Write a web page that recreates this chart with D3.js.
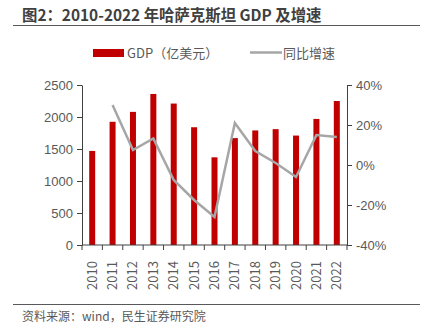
<!DOCTYPE html>
<html lang="zh">
  <head>
    <meta charset="utf-8" />
    <script src="https://d3js.org/d3.v7.min.js"></script>
    <style>
      body {
        margin: 0;
        background-color: #fff;
      }
      svg {
        font-family: "Noto Sans CJK SC", "Noto Sans", sans-serif;
      }
      .axis path,
      .axis line {
        stroke: #404040;
      }
      .axis text {
        fill: #595959;
        font-size: 13px;
      }
    </style>
  </head>
  <body>
    <div id="chart"></div>
    <script>
      const width = 427;
      const height = 336;

      const years = ["2010", "2011", "2012", "2013", "2014", "2015", "2016",
        "2017", "2018", "2019", "2020", "2021", "2022"];
      const gdp = [1470, 1925, 2080, 2360, 2210, 1840, 1370, 1670, 1790, 1810, 1710, 1970, 2250];
      const growth = [null, 30, 7.5, 13.3, -7.5, -17.5, -26, 21, 7, 1, -6, 15, 14];
      const leftTicks = [0, 500, 1000, 1500, 2000, 2500];
      const rightTicks = [-40, -20, 0, 20, 40];

      const margin = { left: 82, right: 80, top: 85, bottom: 91 };

      const svg = d3
        .select("#chart")
        .append("svg")
        .attr("width", width)
        .attr("height", height);

      // titre + filets
      svg.append("text")
        .attr("x", 22)
        .attr("y", 21)
        .attr("fill", "#404040")
        .attr("font-size", "15.4px")
        .attr("font-weight", "bold")
        .text("图2：2010-2022 年哈萨克斯坦 GDP 及增速");
      svg.append("line")
        .attr("x1", 13).attr("x2", 420)
        .attr("y1", 25.5).attr("y2", 25.5)
        .attr("stroke", "#595959").attr("stroke-width", 1.2);
      svg.append("line")
        .attr("x1", 13).attr("x2", 420)
        .attr("y1", 304.5).attr("y2", 304.5)
        .attr("stroke", "#595959").attr("stroke-width", 1.2);
      svg.append("text")
        .attr("x", 22)
        .attr("y", 321)
        .attr("fill", "#595959")
        .attr("font-size", "12px")
        .text("资料来源：wind，民生证券研究院");

      const x = d3
        .scaleBand()
        .domain(years)
        .range([margin.left, width - margin.right]);

      const y = d3
        .scaleLinear()
        .domain([0, 2500])
        .range([height - margin.bottom, margin.top]);

      const y2 = d3
        .scaleLinear()
        .domain([-40, 40])
        .range([height - margin.bottom, margin.top]);

      // barres
      svg.selectAll("rect.bar")
        .data(gdp)
        .join("rect")
        .attr("class", "bar")
        .attr("x", (d, i) => x(years[i]) + x.bandwidth() / 2 - 3)
        .attr("width", 6)
        .attr("y", (d) => y(d))
        .attr("height", (d) => y(0) - y(d))
        .attr("fill", "#c00000");

      // courbe
      const line = d3
        .line()
        .defined((d) => d != null)
        .x((d, i) => x(years[i]) + x.bandwidth() / 2)
        .y((d) => y2(d));

      svg.append("path")
        .datum(growth)
        .attr("fill", "none")
        .attr("stroke", "#a6a6a6")
        .attr("stroke-width", 2.5)
        .attr("d", line);

      // axes
      svg.append("g")
        .attr("class", "axis")
        .attr("transform", `translate(${margin.left},0)`)
        .call(d3.axisLeft(y).tickValues(leftTicks).tickSize(5).tickSizeOuter(0)
          .tickPadding(4).tickFormat(d3.format("d")));

      svg.append("g")
        .attr("class", "axis")
        .attr("transform", `translate(${width - margin.right},0)`)
        .call(d3.axisRight(y2).tickValues(rightTicks).tickSize(5).tickSizeOuter(0)
          .tickPadding(4).tickFormat((d) => d + "%"));

      const xAxis = svg.append("g")
        .attr("class", "axis")
        .attr("transform", `translate(0,${height - margin.bottom})`);
      xAxis.append("line")
        .attr("x1", margin.left).attr("x2", width - margin.right)
        .attr("stroke", "#404040");
      const bounds = years.map((d) => x(d)).concat([width - margin.right]);
      xAxis.selectAll("line.tick")
        .data(bounds)
        .join("line")
        .attr("class", "tick")
        .attr("x1", (d) => d).attr("x2", (d) => d)
        .attr("y1", 0).attr("y2", 5)
        .attr("stroke", "#404040");
      xAxis.selectAll("text")
        .data(years)
        .join("text")
        .attr("transform", (d) => `translate(${x(d) + x.bandwidth() / 2 + 4.5},${45}) rotate(-90)`)
        .attr("fill", "#595959")
        .attr("font-size", "13px")
        .text((d) => d);

      // légende
      const legend = svg.append("g").attr("font-size", "13px").attr("fill", "#595959");
      legend.append("rect")
        .attr("x", 93).attr("y", 49).attr("width", 31).attr("height", 8)
        .attr("fill", "#c00000");
      legend.append("text").attr("x", 127).attr("y", 58).text("GDP（亿美元）");
      legend.append("line")
        .attr("x1", 250).attr("x2", 282).attr("y1", 52.5).attr("y2", 52.5)
        .attr("stroke", "#a6a6a6").attr("stroke-width", 2.5);
      legend.append("text").attr("x", 283).attr("y", 58).text("同比增速");
    </script>
  </body>
</html>
